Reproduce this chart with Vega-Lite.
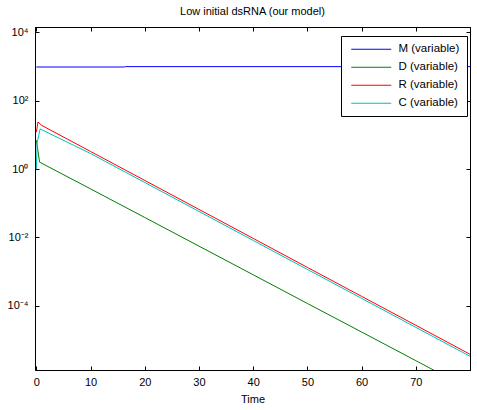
{
  "$schema": "https://vega.github.io/schema/vega-lite/v6.json",
  "width": 435,
  "height": 343,
  "autosize": {"type": "none"},
  "padding": {"left": 35, "top": 27, "right": 7, "bottom": 40},
  "background": "white",
  "config": {
    "font": "Liberation Sans",
    "view": {"stroke": "black", "strokeWidth": 1},
    "axis": {
      "domainColor": "black",
      "tickColor": "black",
      "labelColor": "black",
      "titleColor": "black",
      "labelFontSize": 11,
      "titleFontSize": 11,
      "titleFontWeight": "normal",
      "grid": false,
      "tickSize": -4,
      "labelPadding": 10
    }
  },
  "title": {
    "text": "Low initial dsRNA (our model)",
    "fontSize": 11,
    "fontWeight": "normal",
    "offset": 9,
    "color": "black",
    "font": "Liberation Sans"
  },
  "data": {
    "values": [
      {"t": 0, "v": 975, "s": "M (variable)"},
      {"t": 16.2, "v": 975, "s": "M (variable)"},
      {"t": 16.4, "v": 1000, "s": "M (variable)"},
      {"t": 80, "v": 1000, "s": "M (variable)"},
      {"t": 0, "v": 7, "s": "D (variable)"},
      {"t": 0.6, "v": 1.6, "s": "D (variable)"},
      {"t": 10, "v": 0.264, "s": "D (variable)"},
      {"t": 20, "v": 0.0384, "s": "D (variable)"},
      {"t": 30, "v": 0.00557, "s": "D (variable)"},
      {"t": 40, "v": 0.000809, "s": "D (variable)"},
      {"t": 50, "v": 0.000117, "s": "D (variable)"},
      {"t": 60, "v": 0.0000171, "s": "D (variable)"},
      {"t": 70, "v": 0.00000248, "s": "D (variable)"},
      {"t": 80, "v": 0.00000036, "s": "D (variable)"},
      {"t": 0, "v": 12, "s": "R (variable)"},
      {"t": 0.3, "v": 24, "s": "R (variable)"},
      {"t": 1, "v": 19, "s": "R (variable)"},
      {"t": 10, "v": 3.29, "s": "R (variable)"},
      {"t": 20, "v": 0.467, "s": "R (variable)"},
      {"t": 30, "v": 0.0662, "s": "R (variable)"},
      {"t": 40, "v": 0.0094, "s": "R (variable)"},
      {"t": 50, "v": 0.00133, "s": "R (variable)"},
      {"t": 60, "v": 0.000189, "s": "R (variable)"},
      {"t": 70, "v": 0.0000269, "s": "R (variable)"},
      {"t": 80, "v": 0.00000381, "s": "R (variable)"},
      {"t": 0, "v": 1, "s": "C (variable)"},
      {"t": 0.15, "v": 6, "s": "C (variable)"},
      {"t": 0.7, "v": 15, "s": "C (variable)"},
      {"t": 10, "v": 2.86, "s": "C (variable)"},
      {"t": 20, "v": 0.406, "s": "C (variable)"},
      {"t": 30, "v": 0.0577, "s": "C (variable)"},
      {"t": 40, "v": 0.00818, "s": "C (variable)"},
      {"t": 50, "v": 0.00116, "s": "C (variable)"},
      {"t": 60, "v": 0.000165, "s": "C (variable)"},
      {"t": 70, "v": 0.0000234, "s": "C (variable)"},
      {"t": 80, "v": 0.00000332, "s": "C (variable)"}
    ]
  },
  "layer": [
    {
      "mark": {"type": "line", "clip": true, "strokeWidth": 1},
      "encoding": {
        "x": {
          "field": "t",
          "type": "quantitative",
          "scale": {"domain": [-0.25, 80], "nice": false, "zero": false},
          "axis": {"values": [0, 10, 20, 30, 40, 50, 60, 70], "title": "Time", "titlePadding": 6}
        },
        "y": {
          "field": "v",
          "type": "quantitative",
          "scale": {"type": "log", "domain": [0.00000132, 14450], "nice": false},
          "axis": {
            "values": [0.0001, 0.01, 1, 100, 10000],
            "title": null,
            "labelPadding": 11,
            "labelExpr": "datum.value >= 1000 ? '10⁴' : datum.value >= 10 ? '10²' : datum.value >= 0.5 ? '10⁰' : datum.value >= 0.001 ? '10⁻²' : '10⁻⁴'"
          }
        },
        "color": {
          "field": "s",
          "type": "nominal",
          "sort": ["M (variable)", "D (variable)", "R (variable)", "C (variable)"],
          "scale": {
            "domain": ["M (variable)", "D (variable)", "R (variable)", "C (variable)"],
            "range": ["#0000ff", "#008000", "#ff0000", "#00bfbf"]
          },
          "legend": {
            "orient": "none",
            "legendX": 306,
            "legendY": 9,
            "title": null,
            "symbolType": "M-1,0.2H15",
            "symbolSize": 25,
            "symbolStrokeWidth": 1,
            "symbolFillColor": "transparent",
            "labelFontSize": 11.5,
            "labelColor": "black",
            "labelOffset": 39,
            "rowPadding": 5,
            "strokeColor": "black",
            "fillColor": "white",
            "padding": 7
          }
        }
      }
    },
    {
      "mark": {"type": "line", "opacity": 0},
      "encoding": {
        "detail": {"field": "s"},
        "x": {
          "field": "t",
          "type": "quantitative",
          "scale": {"domain": [-0.25, 80], "nice": false, "zero": false},
          "axis": {"orient": "top", "values": [0, 10, 20, 30, 40, 50, 60, 70], "labels": false, "title": null}
        },
        "y": {
          "field": "v",
          "type": "quantitative",
          "scale": {"type": "log", "domain": [0.00000132, 14450], "nice": false},
          "axis": {"orient": "right", "values": [0.0001, 0.01, 1, 100, 10000], "labels": false, "title": null}
        }
      }
    }
  ],
  "resolve": {
    "scale": {"x": "independent", "y": "independent"},
    "axis": {"x": "independent", "y": "independent"}
  }
}
